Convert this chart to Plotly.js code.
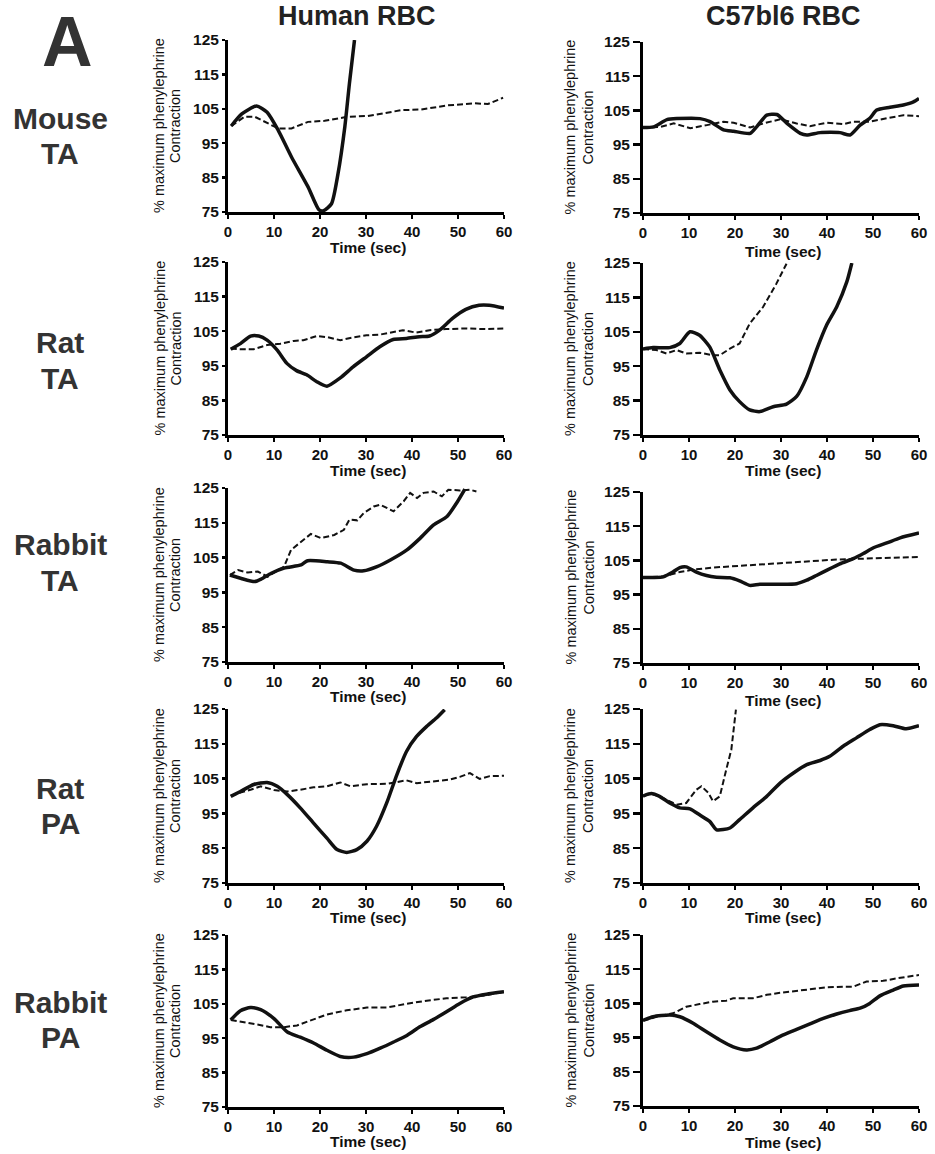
<!DOCTYPE html>
<html>
<head>
<meta charset="utf-8">
<script src="https://cdn.plot.ly/plotly-3.0.1.min.js"></script>
<style>html,body{margin:0;padding:0;background:#fff;}#chart{width:935px;height:1154px;}</style>
</head>
<body>
<div id="chart"></div>
<script>
// ---------- Data (time in sec, % maximum phenylephrine contraction) ----------
const rowLabels = ["Mouse<br>TA", "Rat<br>TA", "Rabbit<br>TA", "Rat<br>PA", "Rabbit<br>PA"];
const colLabels = ["Human RBC", "C57bl6 RBC"];
const xTicks = [0, 10, 20, 30, 40, 50, 60];
const yTicks = [75, 85, 95, 105, 115, 125];

// Mouse TA – Human RBC
const mouseTA_human_solid_t = [0.7, 3, 6.2, 8.5, 10.9, 13.8, 17.4, 19.8, 20.8, 22.5, 23.9, 25.4, 26.4, 27.5];
const mouseTA_human_solid_v = [100, 103.5, 105.8, 104, 98.8, 91, 82.3, 75.6, 75.4, 77.4, 86, 99.8, 112.4, 125];
const mouseTA_human_dash_t = [0.7, 3.6, 5.8, 8.7, 10.9, 13.8, 17.4, 21, 26, 30.4, 37.7, 42, 47.8, 53.6, 56.5, 59.8];
const mouseTA_human_dash_v = [100, 102.7, 102.7, 100.7, 99.3, 99.3, 101.2, 101.5, 102.7, 102.9, 104.6, 104.8, 106, 106.6, 106.4, 108.2];
// Mouse TA – C57bl6 RBC
const mouseTA_c57_solid_t = [0, 2.3, 5.2, 7.4, 12.4, 14.6, 17.5, 19.7, 23.3, 24.7, 26.9, 29.1, 31.3, 34.2, 35.6, 38.5, 42.8, 45, 47.2, 49.3, 50.8, 53.7, 56.6, 58.8, 60];
const mouseTA_c57_solid_v = [100, 100.2, 102.3, 102.6, 102.6, 101.7, 99.3, 98.9, 98.3, 100.2, 103.6, 103.8, 101.2, 98.3, 97.8, 98.5, 98.5, 97.8, 100.7, 102.7, 105.1, 105.9, 106.6, 107.5, 108.5];
const mouseTA_c57_dash_t = [0, 3.8, 6.7, 10.3, 13.9, 17.5, 19.7, 23.3, 26.2, 29.8, 33.4, 36.3, 39.9, 43.6, 45.7, 49.3, 53, 56.6, 60];
const mouseTA_c57_dash_v = [100, 100.2, 101.2, 99.8, 100.7, 101.7, 101.4, 100, 101.2, 102.4, 101.2, 100.4, 101.4, 101, 101.7, 101.7, 102.7, 103.6, 103.3];
// Rat TA – Human RBC
const ratTA_human_solid_t = [0.6, 2.7, 4.9, 6.7, 8.5, 10.7, 12.8, 14.9, 17.1, 19.3, 21.5, 24.4, 27.2, 30.1, 33, 35.9, 38.8, 41.6, 43.8, 46, 48.8, 51.7, 54.6, 56.8, 60];
const ratTA_human_solid_v = [99.8, 101.4, 103.6, 103.6, 102.4, 99.5, 95.7, 93.6, 92.4, 90.4, 89.1, 91.5, 94.7, 97.6, 100.5, 102.6, 102.9, 103.4, 103.6, 105.3, 108.7, 111.3, 112.5, 112.5, 111.7];
const ratTA_human_dash_t = [0.6, 2.7, 5.6, 8.5, 11.4, 14.3, 16.4, 19.3, 21.5, 24.4, 27.2, 30.1, 33, 35.9, 38, 40.9, 43.8, 47.4, 51.7, 56, 60];
const ratTA_human_dash_v = [100, 99.8, 99.8, 101, 101.4, 102.2, 102.4, 103.6, 103.3, 102.4, 103.2, 103.8, 104, 104.8, 105.3, 104.6, 105.3, 105.6, 105.8, 105.6, 105.8];
// Rat TA – C57bl6 RBC
const ratTA_c57_solid_t = [0, 2.2, 5.8, 8, 10.2, 12.3, 14.5, 16.7, 18.9, 21, 23.2, 25.4, 28.3, 31.2, 33.4, 35.6, 37.7, 39.9, 42.1, 44.3, 45.4];
const ratTA_c57_solid_v = [100, 100.4, 100.4, 101.6, 105, 104, 100.6, 93.9, 88.1, 84.7, 82.3, 81.8, 83.2, 84, 86.2, 91.9, 99.7, 106.9, 112.2, 119.5, 125];
const ratTA_c57_dash_t = [0, 2.9, 5.1, 7.3, 9.4, 12.3, 15.2, 16.7, 18.9, 21, 23.2, 26.1, 29, 31.2];
const ratTA_c57_dash_v = [100, 99.7, 98.7, 99.7, 98.7, 98.9, 98.2, 98.2, 100.1, 101.6, 107.4, 112.2, 119, 124.8];
// Rabbit TA – Human RBC
const rabbitTA_human_solid_t = [0.4, 2.9, 5.8, 7.2, 9.4, 12.2, 15.9, 17.3, 21.6, 24.5, 27.4, 29.5, 32.4, 35.3, 38.9, 41.8, 44.7, 47.6, 49.7, 51.5];
const rabbitTA_human_solid_v = [100, 99, 98.1, 98.8, 100.5, 102, 102.9, 104.1, 103.8, 103.4, 101.4, 101.2, 102.4, 104.3, 107.2, 110.6, 114.4, 116.8, 120.7, 124.7];
const rabbitTA_human_dash_t = [0.4, 2.2, 4.3, 6.5, 8.6, 10.8, 12.2, 13.7, 15.9, 18, 20.2, 23.1, 25.2, 26.4, 28.1, 29.5, 31.7, 33.1, 36, 38.2, 39.6, 41.1, 42.5, 44.7, 46.5, 47.9, 50.4, 52.6, 54];
const rabbitTA_human_dash_v = [100, 101.4, 100.7, 101, 99.5, 101.4, 102.4, 107.2, 109.6, 111.8, 110.6, 111.5, 113, 115.9, 115.7, 117.8, 119.7, 120.2, 118.3, 121.2, 123.6, 122.1, 123.6, 124, 122.6, 124.5, 124.3, 124.5, 124];
// Rabbit TA – C57bl6 RBC
const rabbitTA_c57_solid_t = [0, 2.2, 4.4, 6.5, 8, 9.4, 11.6, 13.8, 16, 18.9, 21, 23.2, 25.4, 29.8, 33.4, 35.6, 37.7, 39.9, 42.8, 45.7, 47.9, 50.1, 53, 55.9, 60];
const rabbitTA_c57_solid_v = [100, 100, 100.2, 101.6, 102.9, 103.1, 101.6, 100.6, 100.1, 99.9, 99, 97.7, 98, 98, 98.2, 99.2, 100.6, 102.1, 104, 105.5, 107, 108.7, 110.1, 111.6, 113];
const rabbitTA_c57_dash_t = [0, 4.4, 8, 10.9, 15.2, 19.6, 23.9, 28.3, 32.7, 37, 41.4, 45.7, 50.1, 54.4, 60];
const rabbitTA_c57_dash_v = [100, 100.3, 101.6, 102.3, 102.9, 103.3, 103.8, 104.2, 104.5, 105, 105.2, 105.4, 105.7, 105.8, 106];
// Rat PA – Human RBC
const ratPA_human_solid_t = [0.6, 2.7, 5.6, 8.5, 10.7, 12.9, 15.7, 18.6, 21.5, 23.7, 25.8, 28, 30.2, 32.3, 34.5, 36.7, 38.8, 41, 43.2, 45.3, 47.1];
const ratPA_human_solid_v = [99.9, 101.3, 103.3, 103.9, 102.8, 100.4, 96.6, 92.2, 87.9, 84.6, 83.8, 84.6, 87, 91.3, 98, 106.1, 112.8, 117.1, 120, 122.4, 124.8];
const ratPA_human_dash_t = [0.6, 2.7, 4.9, 7.1, 10, 12.9, 15.7, 18.6, 21.5, 24.4, 26.6, 30.2, 34.5, 38.8, 41, 44.6, 48.2, 50.4, 52.6, 54.7, 56.9, 60];
const ratPA_human_dash_v = [100, 101, 101.8, 102.8, 101.7, 101.3, 101.8, 102.5, 102.8, 103.9, 102.8, 103.4, 103.5, 104.5, 103.7, 104.2, 104.7, 105.5, 106.6, 104.9, 105.7, 105.8];
// Rat PA – C57bl6 RBC
const ratPA_c57_solid_t = [0, 1.8, 3.6, 5.8, 8, 10.2, 12.3, 14.5, 16, 18.9, 21, 23.9, 26.9, 29.8, 32.7, 35.6, 38.5, 40.6, 43.5, 46.4, 49.3, 51.5, 54.4, 57.2, 60];
const ratPA_c57_solid_v = [100, 100.7, 99.9, 98, 96.6, 96.3, 94.6, 92.7, 90.3, 90.8, 93.2, 96.6, 99.9, 103.7, 106.6, 109, 110.2, 111.4, 114.3, 116.7, 119.1, 120.5, 120.2, 119.3, 120.2];
const ratPA_c57_dash_t = [0, 1.8, 4.4, 7.3, 9.4, 11.6, 12.7, 14.2, 15.2, 16.7, 18.1, 19.2, 20.2];
const ratPA_c57_dash_v = [100, 100.7, 99.4, 97.5, 98, 101.8, 102.8, 100.9, 98.5, 99.9, 107.6, 113.3, 124.8];
// Rabbit PA – Human RBC
const rabbitPA_human_solid_t = [0.6, 2.7, 4.9, 7.1, 10, 12.9, 15.7, 18.6, 21.5, 24.4, 27.3, 30.2, 33.1, 36, 38.9, 41.7, 44.6, 47.5, 50.4, 53.3, 56.2, 60];
const rabbitPA_human_solid_v = [100.3, 103, 103.9, 103.3, 100.7, 96.8, 95.3, 93.6, 91.5, 89.7, 89.5, 90.5, 92.1, 93.9, 95.8, 98.3, 100.4, 102.7, 105.1, 107, 107.8, 108.5];
const rabbitPA_human_dash_t = [0.6, 3.5, 6.4, 9.2, 12.1, 15, 17.9, 21.5, 25.8, 30.2, 34.5, 38.8, 43.2, 47.5, 51.8, 56.2, 60];
const rabbitPA_human_dash_v = [100.3, 99.7, 99, 98.2, 98.2, 98.7, 100.2, 101.9, 103.1, 103.9, 103.9, 105, 105.9, 106.6, 106.9, 107.5, 108.5];
// Rabbit PA – C57bl6 RBC
const rabbitPA_c57_solid_t = [0, 2.2, 5.8, 8, 10.9, 13.8, 16.7, 19.6, 22.5, 24.7, 27.6, 30.5, 33.4, 36.3, 39.2, 42.1, 44.9, 47.2, 49.3, 51.5, 54.4, 56.6, 60];
const rabbitPA_c57_solid_v = [100, 101.1, 101.6, 101.1, 99.2, 96.7, 94.3, 92.3, 91.4, 91.9, 93.8, 95.8, 97.4, 99, 100.6, 101.9, 102.9, 103.6, 105, 107.2, 108.9, 110.1, 110.4];
const rabbitPA_c57_dash_t = [0, 3.6, 6.5, 9.4, 12.3, 15.2, 18.1, 19.6, 23.9, 26.9, 29.8, 33.4, 37, 39.9, 43.5, 45.7, 48.6, 52.2, 55.1, 60];
const rabbitPA_c57_dash_v = [100, 101.3, 102.1, 104, 104.8, 105.5, 105.8, 106.5, 106.5, 107.5, 108.1, 108.7, 109.4, 109.7, 109.9, 109.9, 111.4, 111.6, 112.3, 113.3];

const series = [
  [mouseTA_human_solid_t, mouseTA_human_solid_v, mouseTA_human_dash_t, mouseTA_human_dash_v],
  [mouseTA_c57_solid_t, mouseTA_c57_solid_v, mouseTA_c57_dash_t, mouseTA_c57_dash_v],
  [ratTA_human_solid_t, ratTA_human_solid_v, ratTA_human_dash_t, ratTA_human_dash_v],
  [ratTA_c57_solid_t, ratTA_c57_solid_v, ratTA_c57_dash_t, ratTA_c57_dash_v],
  [rabbitTA_human_solid_t, rabbitTA_human_solid_v, rabbitTA_human_dash_t, rabbitTA_human_dash_v],
  [rabbitTA_c57_solid_t, rabbitTA_c57_solid_v, rabbitTA_c57_dash_t, rabbitTA_c57_dash_v],
  [ratPA_human_solid_t, ratPA_human_solid_v, ratPA_human_dash_t, ratPA_human_dash_v],
  [ratPA_c57_solid_t, ratPA_c57_solid_v, ratPA_c57_dash_t, ratPA_c57_dash_v],
  [rabbitPA_human_solid_t, rabbitPA_human_solid_v, rabbitPA_human_dash_t, rabbitPA_human_dash_v],
  [rabbitPA_c57_solid_t, rabbitPA_c57_solid_v, rabbitPA_c57_dash_t, rabbitPA_c57_dash_v]
];

// ---------- Layout (pixel geometry) ----------
const W = 935, H = 1154;
const fx = p => p / W;
const fy = p => 1 - p / H;
const colX = [[228, 504], [643, 919]];
const rowY = [
  [[40, 212], [42, 213]],
  [[262, 435], [263, 435]],
  [[488, 662], [492, 663]],
  [[709, 883], [709, 883]],
  [[935, 1107], [935, 1106]]
];
const xTitleY = [[248, 252], [470, 470], [696, 700], [918, 918], [1141, 1142]];
const xTitleX = [368, 783];
const yTitleX = [[159, 175], [570, 588]];
const rowLabelY = [[118, 153], [343, 378], [544, 580], [788, 823], [1002, 1037]];

const FONT = "Liberation Sans, Arial, Helvetica, sans-serif";
const layout = {
  width: W, height: H, autosize: false,
  margin: {l: 0, r: 0, t: 0, b: 0},
  paper_bgcolor: "#fff", plot_bgcolor: "rgba(0,0,0,0)",
  showlegend: false,
  font: {family: FONT, color: "#111"},
  annotations: []
};
const traces = [];

for (let r = 0; r < 5; r++) {
  for (let c = 0; c < 2; c++) {
    const i = r * 2 + c + 1;
    const xa = "xaxis" + (i === 1 ? "" : i), ya = "yaxis" + (i === 1 ? "" : i);
    const xid = "x" + (i === 1 ? "" : i), yid = "y" + (i === 1 ? "" : i);
    const yd = rowY[r][c];
    layout[xa] = {
      domain: [fx(colX[c][0]), fx(colX[c][1])], anchor: yid,
      range: [0, 60], tickvals: xTicks, ticktext: xTicks.map(String),
      showline: true, linewidth: 3, linecolor: "#000",
      ticks: "outside", ticklen: 4, tickwidth: 2.5, tickcolor: "#000",
      showgrid: false, zeroline: false, fixedrange: true,
      tickfont: {family: FONT, size: 15, weight: "bold", color: "#111"}
    };
    layout[ya] = {
      domain: [fy(yd[1]), fy(yd[0])], anchor: xid,
      range: [75, 125], tickvals: yTicks, ticktext: yTicks.map(String),
      showline: true, linewidth: 3, linecolor: "#000",
      ticks: "outside", ticklen: c === 0 ? 3 : 7, tickwidth: 2.5, tickcolor: "#000",
      showgrid: false, zeroline: false, fixedrange: true,
      tickfont: {family: FONT, size: 15.5, weight: "bold", color: "#111"}
    };
    const s = series[i - 1];
    traces.push({x: s[2], y: s[3], xaxis: xid, yaxis: yid, type: "scatter", mode: "lines",
      line: {color: "#111", width: 2, dash: "6px,3px"}, hoverinfo: "skip"});
    traces.push({x: s[0], y: s[1], xaxis: xid, yaxis: yid, type: "scatter", mode: "lines",
      line: {color: "#111", width: 3.5, shape: "spline", smoothing: 0.6}, hoverinfo: "skip"});

    // x-axis title
    layout.annotations.push({text: "<b>Time (sec)</b>", xref: "paper", yref: "paper",
      x: fx(xTitleX[c]), y: fy(xTitleY[r][c]), xanchor: "center", yanchor: "middle",
      showarrow: false, font: {family: FONT, size: 15.5, color: "#111"}});
    // y-axis title (two lines)
    const yc = fy((yd[0] + yd[1]) / 2);
    layout.annotations.push({text: "% maximum phenylephrine", xref: "paper", yref: "paper",
      x: fx(yTitleX[c][0]), y: yc, xanchor: "center", yanchor: "middle", textangle: -90,
      showarrow: false, font: {family: FONT, size: 14.5, color: "#111"}});
    layout.annotations.push({text: "Contraction", xref: "paper", yref: "paper",
      x: fx(yTitleX[c][1]), y: yc, xanchor: "center", yanchor: "middle", textangle: -90,
      showarrow: false, font: {family: FONT, size: 14.5, color: "#111"}});
  }
  // row label
  const parts = rowLabels[r].split("<br>");
  parts.forEach((p, k) => {
    layout.annotations.push({text: "<b>" + p + "</b>", xref: "paper", yref: "paper",
      x: fx(60), y: fy(rowLabelY[r][k]), xanchor: "center", yanchor: "middle",
      showarrow: false, font: {family: FONT, size: 30, color: "#333"}});
  });
}
// column titles
layout.annotations.push({text: "<b>" + colLabels[0] + "</b>", xref: "paper", yref: "paper",
  x: fx(357), y: fy(16), xanchor: "center", yanchor: "middle", showarrow: false,
  font: {family: FONT, size: 27, color: "#222"}});
layout.annotations.push({text: "<b>" + colLabels[1] + "</b>", xref: "paper", yref: "paper",
  x: fx(783), y: fy(16), xanchor: "center", yanchor: "middle", showarrow: false,
  font: {family: FONT, size: 27, color: "#222"}});
// panel letter
layout.annotations.push({text: "<b>A</b>", xref: "paper", yref: "paper",
  x: fx(67), y: fy(42), xanchor: "center", yanchor: "middle", showarrow: false,
  font: {family: FONT, size: 70, color: "#333"}});

Plotly.newPlot("chart", traces, layout, {staticPlot: true, displayModeBar: false});
</script>
</body>
</html>
